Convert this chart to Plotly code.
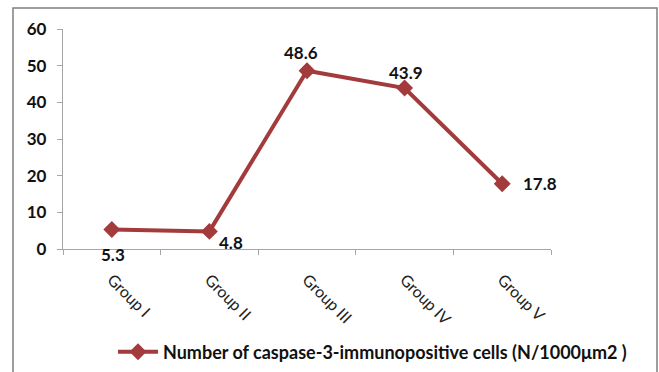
import plotly.graph_objects as go

groups = ["Group I", "Group II", "Group III", "Group IV", "Group V"]
values = [5.3, 4.8, 48.6, 43.9, 17.8]
series_name = "Number of caspase-3-immunopositive cells (N/1000\u03bcm2 )"
y_ticks = [0, 10, 20, 30, 40, 50, 60]

W, H = 659, 372
L, R, T, B = 63, 108, 29, 123
pw, ph = W - L - R, H - T - B

color = "#A33A3C"
font = "Lato"

fig = go.Figure()
fig.add_trace(go.Scatter(
    x=groups, y=values, name=series_name, mode="lines+markers",
    line=dict(color=color, width=4),
    marker=dict(symbol="diamond", size=13, color=color),
    showlegend=True,
))

# data labels
shifts = [(1, -25), (22, -11), (-6, 18), (1, 16), (38, 0)]
for g, v, (dx, dy) in zip(groups, values, shifts):
    fig.add_annotation(x=g, y=v, text=f"<b>{v}</b>", showarrow=False,
                       xshift=dx, yshift=dy,
                       font=dict(family=font, size=17, color="#111111"))

# outer frame
def px2x(p):
    return (p - L) / pw

def py2y(p):
    return (H - B - p) / ph

fig.add_shape(type="rect", xref="paper", yref="paper",
              x0=px2x(13), x1=px2x(657), y0=py2y(380), y1=py2y(8),
              line=dict(color="#7F7F7F", width=1.5), fillcolor="rgba(0,0,0,0)")

fig.update_layout(
    width=W, height=H,
    margin=dict(l=L, r=R, t=T, b=B, pad=0, autoexpand=False),
    paper_bgcolor="white", plot_bgcolor="white",
    font=dict(family=font),
    legend=dict(x=px2x(113), y=py2y(352), xanchor="left", yanchor="middle",
                orientation="h",
                font=dict(family=font, size=18, color="#111111", weight="bold"),
                bgcolor="rgba(0,0,0,0)", itemwidth=40),
    xaxis=dict(type="category", range=[-0.5, 4.5], tickson="boundaries",
               ticks="outside", ticklen=5, tickcolor="#A6A6A6",
               showline=True, linecolor="#A6A6A6", linewidth=1.3,
               showgrid=False, zeroline=False, tickangle=45, automargin=False,
               ticklabelstandoff=14,
               tickfont=dict(family=font, size=16, color="#222222")),
    yaxis=dict(range=[0, 60], tickvals=y_ticks, ticks="outside", ticklen=5,
               tickcolor="#A6A6A6", showline=True, linecolor="#A6A6A6",
               linewidth=1.3, showgrid=False, zeroline=False, automargin=False,
               ticklabelstandoff=7,
               tickfont=dict(family=font, size=17, color="#111111", weight="bold")),
)

fig.write_html("out.html", config={"displayModeBar": False},
               post_script="document.body.style.margin='0';")
